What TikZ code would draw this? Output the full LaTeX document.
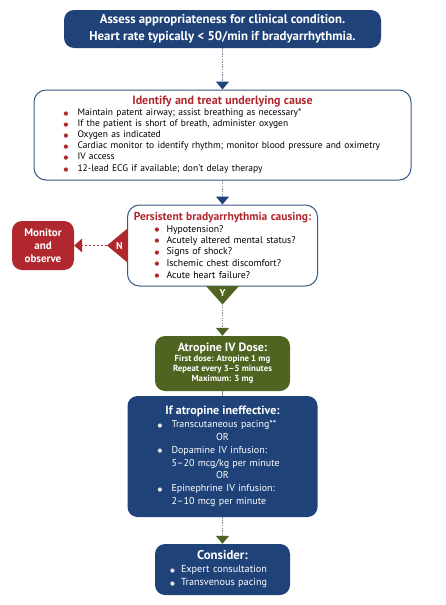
\documentclass[tikz,border=0pt]{standalone}
\usepackage{fontspec}
\setmainfont{PT Sans}
\newfontfamily\dotfont{DejaVu Sans}
\usetikzlibrary{arrows.meta,calc,positioning}
\definecolor{ahablue}{HTML}{1F4279}
\definecolor{ahared}{HTML}{B0282E}
\definecolor{ahagreen}{HTML}{4F6421}
\definecolor{rimblue}{HTML}{3A5A86}
\definecolor{dotgrey}{HTML}{7A8699}
\newcommand\bigdot{{\dotfont\fontsize{5.5}{6}\selectfont\raisebox{0.6pt}{●}}}
\newcommand\rdot[1][14pt]{\makebox[#1][l]{\textcolor{ahared}{\bigdot}}}
\newcommand\wdot[1][14pt]{\makebox[#1][l]{\textcolor{white!80!gray}{\bigdot}}}
\begin{document}
\begin{tikzpicture}[x=1pt,y=-1pt,line join=round,
  fullbox/.style={fill=#1,rounded corners=10pt,text=white,inner ysep=0pt},
  openbox/.style={draw=rimblue,line width=1pt,fill=white,rounded corners=12pt,inner ysep=0pt,align=left},
  dots/.style={line width=1.3pt,dash pattern=on 1.3pt off 1.3pt,draw=dotgrey,-{Triangle[width=13pt,length=8pt,color=#1]}}]
\useasboundingbox (0,0) rectangle (445,605);
% boxes
\node[fullbox=ahablue,minimum width=317,minimum height=38,align=center,font=\fontsize{12.8}{17}\selectfont\bfseries]
  (assess) at (222.5,29) {Assess appropriateness for clinical condition.\\Heart rate typically < 50/min if bradyarrhythmia.};
\node[openbox,text width=318,inner xsep=29.5,minimum height=90] (cause) at (222.5,135)
  {{\centering\color{ahared}\fontsize{12}{15}\bfseries Identify and treat underlying cause\par}
   \fontsize{9.5}{11}\selectfont
   \rdot Maintain patent airway; assist breathing as necessary*\\
   \rdot If the patient is short of breath, administer oxygen\\
   \rdot Oxygen as indicated\\
   \rdot Cardiac monitor to identify rhythm; monitor blood pressure and oximetry\\
   \rdot IV access\\
   \rdot 12-lead ECG if available; don’t delay therapy};
\node[openbox,text width=180,inner xsep=5,minimum height=81] (persist) at (222.5,245.5)
  {{\centering\color{ahared}\fontsize{11.5}{14.5}\bfseries Persistent bradyarrhythmia causing:\par}
   \fontsize{9.8}{11.3}\selectfont
   \hspace*{22pt}\rdot[12pt]Hypotension?\\
   \hspace*{22pt}\rdot[12pt]Acutely altered mental status?\\
   \hspace*{22pt}\rdot[12pt]Signs of shock?\\
   \hspace*{22pt}\rdot[12pt]Ischemic chest discomfort?\\
   \hspace*{22pt}\rdot[12pt]Acute heart failure?};
\node[fullbox=ahared,minimum width=62,minimum height=49,inner xsep=0pt,align=center,font=\fontsize{11}{13}\selectfont\bfseries]
  (monitor) at (43,245.5) {Monitor\\and\\observe};
\node[fullbox=ahagreen,minimum width=135,minimum height=55,align=center,font=\fontsize{8.8}{10}\selectfont\bfseries]
  (atropine) at (222.5,363.5) {{\fontsize{12}{15}\selectfont Atropine IV Dose:}\\First dose: Atropine 1 mg\\Repeat every 3–5 minutes\\Maximum: 3 mg};
\node[fullbox=ahablue,text width=170,inner xsep=10,minimum height=121,align=left,font=\fontsize{10}{12.8}\selectfont]
  (ineff) at (222.5,456.5)
  {{\centering\fontsize{12}{16.5}\bfseries If atropine ineffective:\par}
   \hspace*{20pt}\wdot Transcutaneous pacing**\\
   \makebox[170pt]{OR}\\
   \hspace*{20pt}\wdot Dopamine IV infusion:\\
   \hspace*{34pt}5–20 mcg/kg per minute\\
   \makebox[170pt]{OR}\\
   \hspace*{20pt}\wdot Epinephrine IV infusion:\\
   \hspace*{34pt}2–10 mcg per minute};
\node[fullbox=ahablue,text width=125,inner xsep=5,minimum height=51,align=left,font=\fontsize{10.2}{13}\selectfont]
  (consider) at (222.5,569.5)
  {{\centering\fontsize{12.8}{15}\bfseries Consider:\par}
   \hspace*{10pt}\wdot[11pt]Expert consultation\\
   \hspace*{10pt}\wdot[11pt]Transvenous pacing};
% decision tabs
\coordinate (napex) at ($(persist.west)+(-20,0)$);
\coordinate (yapex) at ($(persist.south)+(0,18)$);
\fill[ahared] ($(persist.west)+(0.5,-17)$) -- (napex) -- ($(persist.west)+(0.5,17)$) -- cycle;
\fill[ahagreen] ($(persist.south)+(-16.5,-0.5)$) -- (yapex) -- ($(persist.south)+(16.5,-0.5)$) -- cycle;
\node[text=white,font=\fontsize{10}{11}\selectfont\bfseries] (no) at ($(persist.west)+(-7.5,0)$) {N};
\node[text=white,font=\fontsize{10}{11}\selectfont\bfseries] (yes) at ($(persist.south)+(0,6.5)$) {Y};
% connectors
\draw[dots=ahablue] (assess) -- (cause);
\draw[dots=ahablue] (cause) -- (persist);
\draw[dots=ahagreen] (yapex) -- (atropine);
\draw[line width=0.8pt,draw=gray] (atropine) -- (ineff);
\draw[dots=ahagreen] (ineff) -- (consider);
\draw[line width=1pt,draw=ahared,dash pattern=on 2.5pt off 1.5pt,-{Triangle[width=14pt,length=8pt]}] (napex) -- (monitor);
\end{tikzpicture}
\end{document}
